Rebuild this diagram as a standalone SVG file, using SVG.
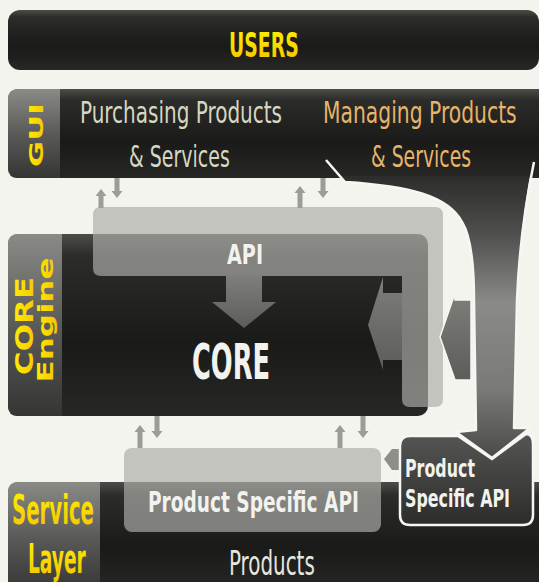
<svg xmlns="http://www.w3.org/2000/svg" width="539" height="582" viewBox="0 0 539 582">
<defs>
<style>
.t{font-family:"DejaVu Sans Condensed","DejaVu Sans",sans-serif;font-stretch:condensed}
.r{font-family:"DejaVu Sans",sans-serif;font-weight:bold}
.b{font-weight:bold}
.y{fill:url(#gYel)}
.w{fill:#f2f2ee}
.bar{fill:url(#gBar)}
.lbl{fill:url(#gLabel)}
.ov{fill:#acaca8;opacity:0.68}
.sa{fill:#9c9c98}
</style>
<linearGradient id="gBar" x1="0" y1="0" x2="0" y2="1">
<stop offset="0" stop-color="#4c4c48"/>
<stop offset="0.12" stop-color="#2c2c2a"/>
<stop offset="0.6" stop-color="#1a1a18"/>
<stop offset="1" stop-color="#272725"/>
</linearGradient>
<linearGradient id="gLabel" x1="0" y1="0" x2="0" y2="1">
<stop offset="0" stop-color="#8a8a86"/>
<stop offset="0.5" stop-color="#5a5a58"/>
<stop offset="1" stop-color="#353533"/>
</linearGradient>
<linearGradient id="gYel" x1="0" y1="0" x2="0" y2="1">
<stop offset="0" stop-color="#fff200"/>
<stop offset="1" stop-color="#f4c000"/>
</linearGradient>
<linearGradient id="gBand" x1="0" y1="176" x2="0" y2="458" gradientUnits="userSpaceOnUse">
<stop offset="0" stop-color="#2c2c2a"/>
<stop offset="0.2" stop-color="#4e4e4c"/>
<stop offset="0.45" stop-color="#8a8a88"/>
<stop offset="0.75" stop-color="#7a7a78"/>
<stop offset="1" stop-color="#4a4a48"/>
</linearGradient>
<linearGradient id="gBox" x1="0" y1="0" x2="0" y2="1">
<stop offset="0" stop-color="#555553"/>
<stop offset="1" stop-color="#2c2c2a"/>
</linearGradient>
<linearGradient id="gArr" x1="0" y1="0" x2="0" y2="1">
<stop offset="0" stop-color="#7e7e7a"/>
<stop offset="1" stop-color="#5c5c5a"/>
</linearGradient>
</defs>
<rect width="539" height="582" fill="#f4f4ee"/>

<g id="users">
<rect class="bar" x="8" y="10" width="531" height="60" rx="12"/>
<text class="t b y" transform="translate(229,57) scale(0.64,1)" font-size="33" textLength="109" lengthAdjust="spacingAndGlyphs">USERS</text>
</g>

<g id="gui">
<rect class="bar" x="8" y="89" width="545" height="89" rx="10"/>
<path class="lbl" d="M18,89 L60,89 L60,178 L18,178 Q8,178 8,168 L8,99 Q8,89 18,89 Z"/>
<text class="r y" transform="translate(43,135) rotate(-90)" text-anchor="middle" font-size="20" textLength="64" lengthAdjust="spacingAndGlyphs">GUI</text>
<text class="t" transform="translate(80,123) scale(0.72,1)" font-size="30" fill="#d6d8c2" textLength="280.6" lengthAdjust="spacingAndGlyphs">Purchasing Products</text>
<text class="t" transform="translate(129,167) scale(0.72,1)" font-size="30" fill="#d6d8c2" textLength="140" lengthAdjust="spacingAndGlyphs">&amp; Services</text>
<text class="t" transform="translate(323,123) scale(0.72,1)" font-size="30" fill="#e6b46a" textLength="269" lengthAdjust="spacingAndGlyphs">Managing Products</text>
<text class="t" transform="translate(371,167) scale(0.72,1)" font-size="30" fill="#e6b46a" textLength="139" lengthAdjust="spacingAndGlyphs">&amp; Services</text>
</g>

<g id="core-engine">
<rect class="bar" x="8" y="234" width="420" height="182" rx="10"/>
<path class="lbl" d="M18,234 L62,234 L62,416 L18,416 Q8,416 8,406 L8,244 Q8,234 18,234 Z"/>
<text class="r y" transform="translate(33,326) rotate(-90)" text-anchor="middle" font-size="24" textLength="98" lengthAdjust="spacingAndGlyphs">CORE</text>
<text class="r y" transform="translate(53,320) rotate(-90)" text-anchor="middle" font-size="21" textLength="125" lengthAdjust="spacingAndGlyphs">Engine</text>
</g>

<g id="api">
<path class="ov" d="M101,207 L435,207 Q443,207 443,215 L443,399 Q443,407 435,407 L410,407 Q402,407 402,399 L402,276 L101,276 Q93,276 93,268 L93,215 Q93,207 101,207 Z"/>
<text class="t b w" transform="translate(227,264) scale(0.82,1)" font-size="26" textLength="44" lengthAdjust="spacingAndGlyphs">API</text>
</g>

<g id="core">
<text class="t b w" transform="translate(192,379) scale(0.57,1)" font-size="50" textLength="137" lengthAdjust="spacingAndGlyphs">CORE</text>
</g>

<g id="service-layer">
<rect class="bar" x="8" y="482" width="545" height="110" rx="10"/>
<path class="lbl" d="M18,482 L100,482 L100,592 L8,592 L8,492 Q8,482 18,482 Z"/>
<text class="t b y" transform="translate(12,524) scale(0.55,1)" font-size="40" textLength="149" lengthAdjust="spacingAndGlyphs">Service</text>
<text class="t b y" transform="translate(28,573) scale(0.55,1)" font-size="40" textLength="105" lengthAdjust="spacingAndGlyphs">Layer</text>
<text class="t" transform="translate(229,575) scale(0.67,1)" font-size="33" fill="#e6e6de" textLength="128" lengthAdjust="spacingAndGlyphs">Products</text>
</g>

<g id="product-specific-api">
<rect class="ov" x="124" y="448" width="257" height="84" rx="8"/>
<text class="t b w" transform="translate(148,512) scale(0.71,1)" font-size="29" textLength="297" lengthAdjust="spacingAndGlyphs">Product Specific API</text>
</g>

<g id="connectors">
<path fill="url(#gBand)" d="M338,176 L530,176 C524,210 519,250 517,300 L514,428 L530,428 L492,458 L456,432 L476,430 L474,300 C474,262 470,235 462,222 C448,196 410,186 345,182 Z"/>
<path fill="none" stroke="#f6f6f2" stroke-width="2.5" stroke-linejoin="round" d="M326,160 L345,182 C410,186 448,196 462,222 C470,235 474,262 474,300 L476,430 L456,432 L492,458 L530,428 L514,428 L517,300 C519,250 524,210 534,162"/>
<path fill="url(#gArr)" d="M226,276 L262,276 L262,302 L276,302 L244,328 L212,302 L226,302 Z"/>
<path fill="url(#gArr)" d="M402,293 L383,293 L383,277 L368,325 L383,370 L383,360 L402,360 Z"/>
<path fill="url(#gArr)" stroke="#f6f6f2" stroke-width="1.5" d="M471,300 L455,300 L455,293 L440,337 L455,380 L471,380 Z"/>
<path fill="#8e8e8a" d="M400,449 L392,449 L384,459 L392,470 L400,470 Z"/>
<path class="sa" d="M101,189 L106.5,196 L103.5,196 L103.5,208 L98.5,208 L98.5,196 L95.5,196 Z"/>
<path class="sa" d="M117,198 L122.5,191 L119.5,191 L119.5,178 L114.5,178 L114.5,191 L111.5,191 Z"/>
<path class="sa" d="M300,186 L305.5,193 L302.5,193 L302.5,208 L297.5,208 L297.5,193 L294.5,193 Z"/>
<path class="sa" d="M323,198 L328.5,191 L325.5,191 L325.5,178 L320.5,178 L320.5,191 L317.5,191 Z"/>
<path class="sa" d="M140,425 L145.5,432 L142.5,432 L142.5,448 L137.5,448 L137.5,432 L134.5,432 Z"/>
<path class="sa" d="M157,438 L162.5,431 L159.5,431 L159.5,416 L154.5,416 L154.5,431 L151.5,431 Z"/>
<path class="sa" d="M340,425 L345.5,432 L342.5,432 L342.5,448 L337.5,448 L337.5,432 L334.5,432 Z"/>
<path class="sa" d="M363,438 L368.5,431 L365.5,431 L365.5,416 L360.5,416 L360.5,431 L357.5,431 Z"/>
</g>

<g id="product-specific-api-ext">
<path fill="url(#gBox)" stroke="#f6f6f2" stroke-width="2.5" stroke-linejoin="round" d="M410,436 L458,436 L492,459 L526,434 Q533,434 533,444 L533,515 Q533,525 523,525 L410,525 Q400,525 400,515 L400,446 Q400,436 410,436 Z"/>
<text class="t b w" transform="translate(405,477) scale(0.7,1)" font-size="25" textLength="100" lengthAdjust="spacingAndGlyphs">Product</text>
<text class="t b w" transform="translate(405,507) scale(0.7,1)" font-size="25" textLength="150" lengthAdjust="spacingAndGlyphs">Specific API</text>
</g>
</svg>
